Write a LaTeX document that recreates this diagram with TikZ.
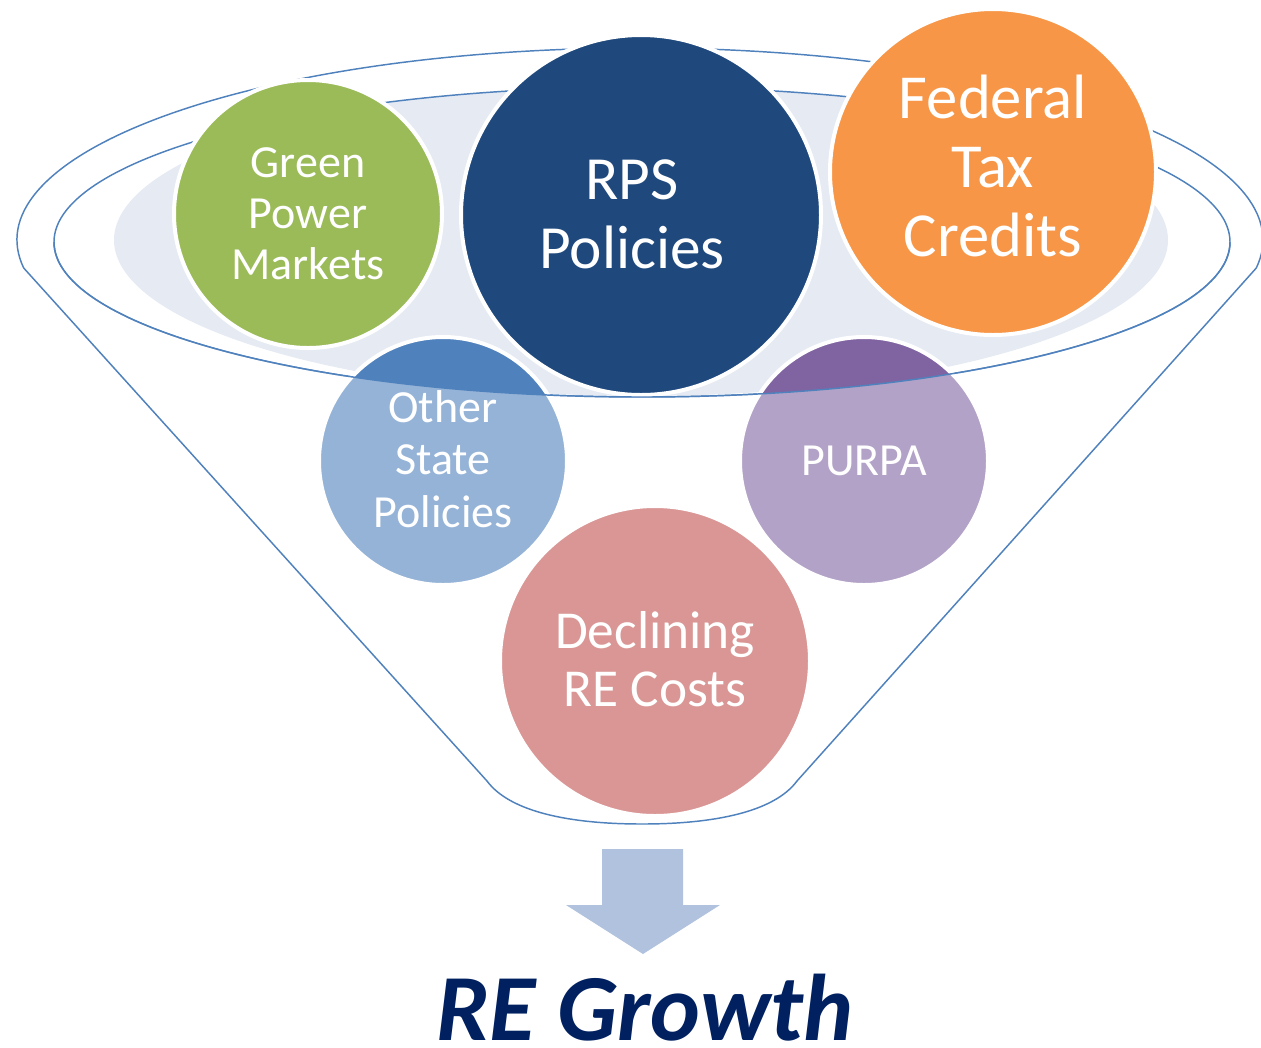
\documentclass[tikz,border=0pt]{standalone}
\usepackage{fontspec}
\setmainfont{Carlito}
\definecolor{cGreen}{HTML}{9BBB59}
\definecolor{cNavy}{HTML}{1F497D}
\definecolor{cOrange}{HTML}{F79646}
\definecolor{cBlue}{HTML}{4F81BD}
\definecolor{cPurple}{HTML}{8064A2}
\definecolor{cRed}{HTML}{C0504D}
\definecolor{cLine}{HTML}{4F81BD}
\definecolor{cFill}{HTML}{E5EAF3}
\definecolor{cArrow}{HTML}{B0C2DD}
\definecolor{cTitle}{HTML}{002060}
\begin{document}
\begin{tikzpicture}[x=0.75pt,y=0.75pt,
  bubble/.style={circle, draw=white, line width=3pt, inner sep=0pt, minimum size=#1*1.5pt},
  btext/.style={text=white, align=center, inner sep=0pt},
  rim/.style={draw=cLine, line width=1.1pt},
]
\useasboundingbox (0,0) rectangle (1261,-1047);
% key points of the funnel
\coordinate (ic) at (642,-242);
\coordinate (il) at (54,-242);
\coordinate (kl) at (23.7,-268);
\coordinate (kr) at (1256.3,-268);
\coordinate (bl) at (487,-781);
\coordinate (br) at (797,-781);
\coordinate (bm) at (642,-824);
% light interior of the mouth
\begin{scope}
  \clip (ic) ellipse [x radius=588, y radius=155];
  \fill[cFill] (641,-240) ellipse [x radius=527, y radius=156];
\end{scope}
% back rim lines
\draw[rim] (kl) arc[start angle=188.4, end angle=-8.4, x radius=623, y radius=192];
\draw[rim] (ic) ellipse [x radius=588, y radius=155];
% bubbles
\node[bubble=134, fill=cGreen]  (gpm) at (308,-214) {};
\node[bubble=180, fill=cNavy]   (rps) at (641,-215) {};
\node[bubble=163, fill=cOrange] (ftc) at (993,-172) {};
\node[bubble=124, fill=cBlue]   (osp) at (443,-461) {};
\node[bubble=124, fill=cPurple] (pur) at (864,-461) {};
\node[bubble=155, fill=cRed]    (dec) at (655,-661) {};
% translucent funnel body
\begin{scope}
  \clip (kl) -- (bl) .. controls (510,-812) and (570,-824) .. (bm)
        .. controls (714,-824) and (774,-812) .. (br) -- (kr) -- cycle;
  \fill[white, fill opacity=0.4, even odd rule]
    (0,0) rectangle (1261,-1047) (ic) ellipse [x radius=588, y radius=155];
\end{scope}
% front lines
\draw[rim] (il) arc[start angle=180, end angle=360, x radius=588, y radius=155];
\draw[rim] (kl) -- (bl) .. controls (510,-812) and (570,-824) .. (bm)
        .. controls (714,-824) and (774,-812) .. (br) -- (kr);
% texts
\node[btext, font=\fontsize{34.5}{38.25}\selectfont] (gpmt) at (308,-213.3) {Green\\Power\\Markets};
\node[btext, font=\fontsize{46}{51.75}\selectfont] (rpst) at (632,-214) {RPS\\Policies};
\node[btext, font=\fontsize{47}{52}\selectfont] (ftct) at (993,-166) {Federal\\Tax\\Credits};
\node[btext, font=\fontsize{34.5}{39.4}\selectfont] (ospt) at (443,-458.8) {Other\\State\\Policies};
\node[btext, font=\fontsize{34.5}{39.4}\selectfont] (purt) at (864,-460.8) {PURPA};
\node[btext, font=\fontsize{40}{43.5}\selectfont] (dect) at (655,-658.8) {Declining\\RE Costs};
% output arrow
\fill[cArrow] (602,-849) -- (683,-849) -- (683,-905) -- (720,-905) -- (643,-954)
  -- (566,-905) -- (602,-905) -- cycle;
\node[anchor=base, inner sep=0pt, text=cTitle, font=\fontsize{71}{74}\selectfont\bfseries\itshape] (title) at (645,-1040) {RE Growth};
\end{tikzpicture}
\end{document}
